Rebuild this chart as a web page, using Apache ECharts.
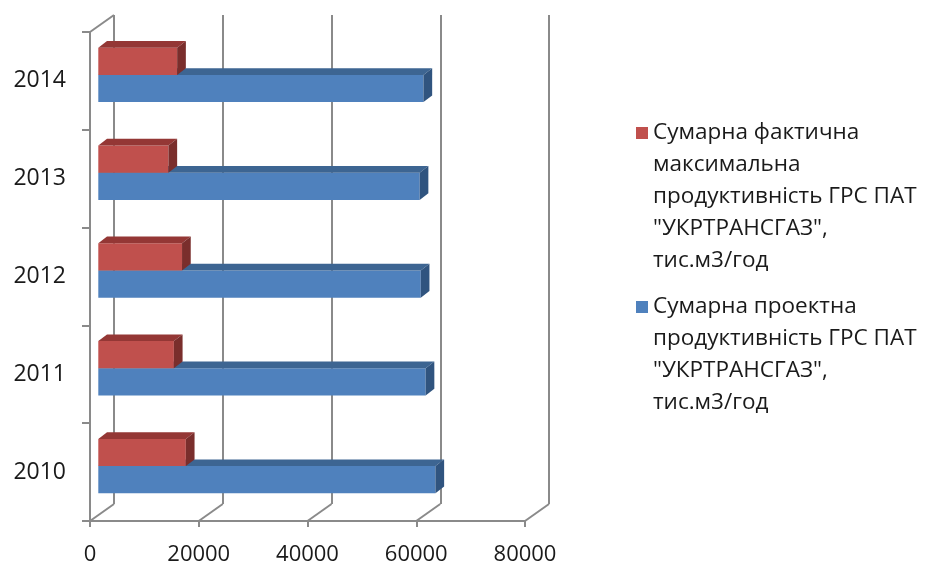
<!DOCTYPE html>
<html>
<head>
<meta charset="utf-8">
<script src="https://cdn.jsdelivr.net/npm/echarts@6/dist/echarts.min.js"></script>
<style>
  html, body { margin: 0; padding: 0; background: #fff; }
  #chart { width: 928px; height: 564px; }
</style>
</head>
<body>
<div id="chart"></div>
<script>
// Years on the category axis (bottom to top)
const years = ['2010', '2011', '2012', '2013', '2014'];
// Сумарна проектна продуктивність, тис.м3/год
const designCapacity = [62000, 60200, 59300, 59100, 59800];
// Сумарна фактична максимальна продуктивність, тис.м3/год
const actualMaxCapacity = [16100, 13900, 15400, 12900, 14500];
// Value axis ticks
const valueTicks = [0, 20000, 40000, 60000, 80000];

const nameActual = 'Сумарна фактична максимальна продуктивність ГРС ПАТ "УКРТРАНСГАЗ", тис.м3/год';
const nameDesign = 'Сумарна проектна продуктивність ГРС ПАТ "УКРТРАНСГАЗ", тис.м3/год';
const legendLinesActual = ['Сумарна фактична', 'максимальна', 'продуктивність ГРС ПАТ', '"УКРТРАНСГАЗ",', 'тис.м3/год'];
const legendLinesDesign = ['Сумарна проектна', 'продуктивність ГРС ПАТ', '"УКРТРАНСГАЗ",', 'тис.м3/год'];

const FONT = '"Open Sans", "Noto Sans", sans-serif';
const GRID_COLOR = '#8a8a8a';
const TEXT_COLOR = '#1a1a1a';
const LEGEND_LH = 32;

// depth of the plot box (front wall -> back wall)
const DEPTH_X = 24, DEPTH_Y = 17;
// depth of each bar
const BAR_DX = 8.7, BAR_DY = 6.7;
const BAR_FRAC = 0.278;

const PLOT_W = 435, PLOT_H = 489;
const FRONT = { left: 90, top: 32 };

const chart = echarts.init(document.getElementById('chart'), null, { renderer: 'canvas' });

// floor edges running back from each value tick, plus the top edge of the left wall
function frameItem(params, api) {
  const cs = params.coordSys;
  const x = api.coord([api.value(0), 0])[0];
  const yb = cs.y + cs.height;
  const style = { stroke: GRID_COLOR, lineWidth: 2, fill: null };
  const children = [{
    type: 'line',
    shape: { x1: x, y1: yb, x2: x + DEPTH_X, y2: yb - DEPTH_Y },
    style: style
  }];
  if (params.dataIndex === 0) {
    children.push({
      type: 'line',
      shape: { x1: x, y1: cs.y, x2: x + DEPTH_X, y2: cs.y - DEPTH_Y },
      style: style
    });
  }
  return { type: 'group', children: children };
}

// box-shaped bar: front face, top face and right-hand end
function barItem(upper, colors) {
  return function (params, api) {
    const v = api.value(0), c = api.value(1);
    const p0 = api.coord([0, c]);
    const p1 = api.coord([v, c]);
    const h = api.size([0, 1])[1] * BAR_FRAC;
    const x0 = p0[0], x1 = p1[0];
    const y0 = upper ? p0[1] - h : p0[1];
    const y1 = y0 + h;
    return {
      type: 'group',
      children: [
        { type: 'rect', shape: { x: x0, y: y0, width: x1 - x0, height: h },
          style: { fill: colors[0] } },
        { type: 'polygon', shape: { points: [[x0, y0], [x0 + BAR_DX, y0 - BAR_DY], [x1 + BAR_DX, y0 - BAR_DY], [x1, y0]] },
          style: { fill: colors[1] } },
        { type: 'polygon', shape: { points: [[x1, y0], [x1 + BAR_DX, y0 - BAR_DY], [x1 + BAR_DX, y1 - BAR_DY], [x1, y1]] },
          style: { fill: colors[2] } }
      ]
    };
  };
}

// one legend per series so the marker sits beside the first line of its text
function legendFor(name, lines, iconCenterY) {
  const n = lines.length;
  const boxH = (2 * n - 1) * LEGEND_LH;
  const text = new Array(n - 1).fill('').concat(lines).join('\n');
  return {
    data: [name],
    left: 636,
    top: iconCenterY - boxH / 2,
    orient: 'vertical',
    padding: 0,
    icon: 'rect',
    itemWidth: 12,
    itemHeight: 12,
    selectedMode: false,
    formatter: function () { return text; },
    textStyle: {
      fontFamily: FONT,
      fontSize: 22.5,
      color: TEXT_COLOR,
      lineHeight: LEGEND_LH
    }
  };
}

const hiddenAxis = { show: false };

const option = {
  animation: false,
  backgroundColor: '#ffffff',
  grid: [
    { left: FRONT.left, top: FRONT.top, width: PLOT_W, height: PLOT_H, outerBoundsMode: 'none' },
    { left: FRONT.left + DEPTH_X, top: FRONT.top - DEPTH_Y, width: PLOT_W, height: PLOT_H, outerBoundsMode: 'none' },
    { left: FRONT.left + 8.3, top: FRONT.top - 6, width: PLOT_W, height: PLOT_H, outerBoundsMode: 'none' }
  ],
  xAxis: [
    {
      gridIndex: 0, type: 'value', min: 0, max: 80000, interval: 20000,
      axisLine: { show: true, lineStyle: { color: GRID_COLOR, width: 2 } },
      axisTick: { show: true, length: 6, lineStyle: { color: GRID_COLOR, width: 2 } },
      splitLine: { show: false },
      axisLabel: { fontFamily: FONT, fontSize: 22, color: TEXT_COLOR, margin: 23,
                   formatter: v => String(v) }
    },
    {
      gridIndex: 1, type: 'value', min: 0, max: 80000, interval: 20000,
      axisLine: { show: false }, axisTick: { show: false }, axisLabel: { show: false },
      splitLine: { show: true, lineStyle: { color: GRID_COLOR, width: 2 } }
    },
    Object.assign({ gridIndex: 2, type: 'value', min: 0, max: 80000 }, hiddenAxis)
  ],
  yAxis: [
    {
      gridIndex: 0, type: 'category', data: years,
      axisLine: { show: true, lineStyle: { color: GRID_COLOR, width: 2 } },
      axisTick: { show: true, length: 8, lineStyle: { color: GRID_COLOR, width: 2 } },
      axisLabel: { fontFamily: FONT, fontSize: 23, color: TEXT_COLOR, margin: 24 },
      splitLine: { show: false }
    },
    Object.assign({ gridIndex: 1, type: 'category', data: years }, hiddenAxis),
    Object.assign({ gridIndex: 2, type: 'category', data: years }, hiddenAxis)
  ],
  legend: [
    legendFor(nameActual, legendLinesActual, 133),
    legendFor(nameDesign, legendLinesDesign, 307)
  ],
  series: [
    {
      type: 'custom', name: 'frame', xAxisIndex: 0, yAxisIndex: 0, z: 1, silent: true,
      renderItem: frameItem,
      data: valueTicks.map(v => [v, 0])
    },
    {
      type: 'custom', name: nameDesign, xAxisIndex: 2, yAxisIndex: 2, z: 3,
      itemStyle: { color: '#4f81bd' },
      renderItem: barItem(false, ['#4f81bd', '#3d6592', '#30547f']),
      encode: { x: 0, y: 1 },
      data: designCapacity.map((v, i) => [v, i])
    },
    {
      type: 'custom', name: nameActual, xAxisIndex: 2, yAxisIndex: 2, z: 4,
      itemStyle: { color: '#c0504d' },
      renderItem: barItem(true, ['#c0504d', '#943735', '#7a2e2c']),
      encode: { x: 0, y: 1 },
      data: actualMaxCapacity.map((v, i) => [v, i])
    }
  ]
};

chart.setOption(option);
</script>
</body>
</html>
